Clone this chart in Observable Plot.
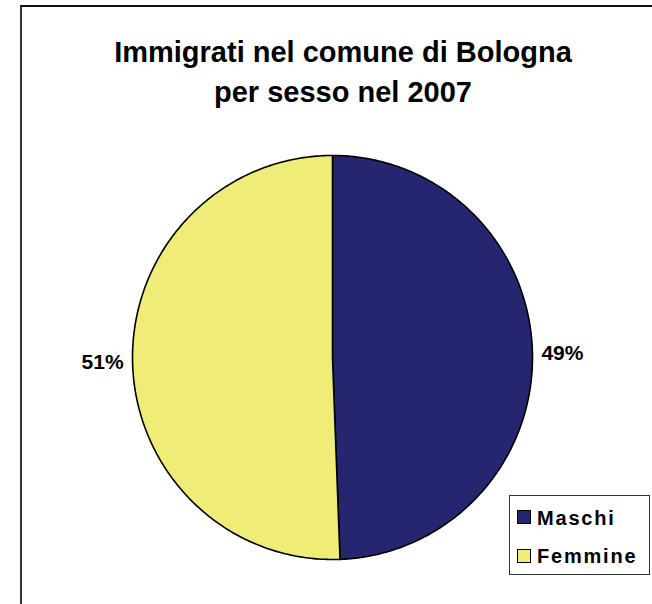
<!DOCTYPE html>
<html>
<head>
<meta charset="utf-8">
<script src="https://cdn.jsdelivr.net/npm/d3@7"></script>
<script src="https://cdn.jsdelivr.net/npm/@observablehq/plot@0.6"></script>
<style>
  html, body { margin: 0; padding: 0; background: #fff; overflow: hidden; }
  body { width: 652px; height: 604px; position: relative; font-family: "Liberation Sans", Arial, sans-serif; }
  #frame { position: absolute; left: 20px; top: 5px; width: 700px; height: 700px;
           border-left: 2px solid #333; border-top: 2px solid #111; box-sizing: border-box; }
  #chart { position: absolute; left: 0; top: 0; }
  #title { position: absolute; left: 20px; width: 646px; top: 32px; text-align: center;
           font-size: 29px; font-weight: bold; line-height: 40px; color: #000; }
  #legend { position: absolute; left: 509px; top: 495px; width: 141px; height: 80px;
            border: 1px solid #333; box-sizing: border-box; background: #fff; }
  .sw { position: absolute; left: 7px; width: 14px; height: 14px; border: 1px solid #000; box-sizing: border-box; }
  .lt { position: absolute; left: 27px; font-size: 20px; font-weight: bold; letter-spacing: 1.8px;
        line-height: 20px; white-space: nowrap; color: #000; }
</style>
</head>
<body>
<div id="frame"></div>
<div id="chart"></div>
<div id="title"></div>
<div id="legend"></div>
<script>
// ---- data ----
const titleLines = ["Immigrati nel comune di Bologna", "per sesso nel 2007"];
const categories = ["Maschi", "Femmine"];
const values = [49.4, 50.6];            // percent share
const labels = ["49%", "51%"];
const colors = ["#262670", "#f0ec78"];

// ---- layout constants ----
const W = 652, H = 604;
const cx = 332, cy = 357, rx = 200, ry = 202;

// build slice polygons in unit coordinates (angle clockwise from top)
const total = d3.sum(values);
let acc = 0;
const slices = categories.map((name, i) => {
  const a0 = acc / total * 2 * Math.PI;
  acc += values[i];
  const a1 = acc / total * 2 * Math.PI;
  return {name, a0, a1, label: labels[i]};
});

const polyPts = [];
for (const s of slices) {
  polyPts.push({name: s.name, x: 0, y: 0});
  const n = 240;
  for (let k = 0; k <= n; k++) {
    const a = s.a0 + (s.a1 - s.a0) * k / n;
    polyPts.push({name: s.name, x: Math.sin(a), y: Math.cos(a)});
  }
  polyPts.push({name: s.name, x: 0, y: 0});
}

const labelR = 1.15;
const labelPts = slices.map(s => {
  const m = (s.a0 + s.a1) / 2;
  return {name: s.name, label: s.label, x: labelR * Math.sin(m), y: labelR * Math.cos(m)};
});

const plot = Plot.plot({
  width: W,
  height: H,
  margin: 0,
  style: {background: "transparent", fontFamily: "'Liberation Sans', Arial, sans-serif"},
  x: {domain: [(0 - cx) / rx, (W - cx) / rx], axis: null},
  y: {domain: [(cy - H) / ry, cy / ry], axis: null},
  color: {domain: categories, range: colors},
  marks: [
    Plot.line(polyPts, {x: "x", y: "y", z: "name", fill: "name", stroke: "#000",
                        strokeWidth: 1.6, strokeLinejoin: "round", curve: "linear"}),
    Plot.text(labelPts, {x: "x", y: "y", text: "label", fontSize: 21, fontWeight: "bold",
                         fill: "#000", textAnchor: "middle"})
  ]
});
document.getElementById("chart").appendChild(plot);

document.getElementById("title").innerHTML = titleLines.join("<br>");

const legend = document.getElementById("legend");
categories.forEach((name, i) => {
  const top = 11.6 + i * 38.5;
  const sw = document.createElement("div");
  sw.className = "sw";
  sw.style.top = (top + 2.5) + "px";
  sw.style.background = colors[i];
  legend.appendChild(sw);
  const t = document.createElement("div");
  t.className = "lt";
  t.style.top = top + "px";
  t.textContent = name;
  legend.appendChild(t);
});
</script>
</body>
</html>
